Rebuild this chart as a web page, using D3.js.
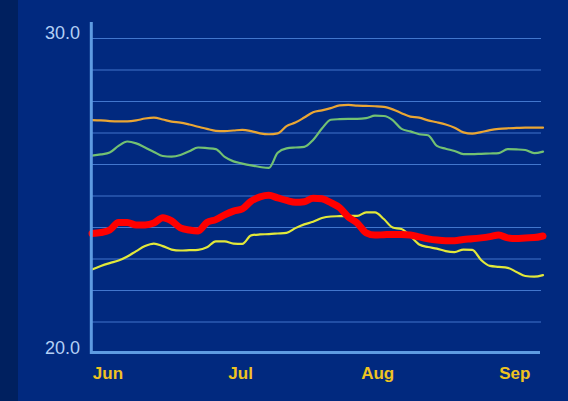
<!DOCTYPE html>
<html>
<head>
<meta charset="utf-8">
<script src="https://cdn.jsdelivr.net/npm/d3@7"></script>
<style>
  html, body { margin: 0; padding: 0; background: #01297f; }
  svg { display: block; }
</style>
</head>
<body>
<svg id="chart" width="568" height="401"></svg>
<script>
// ---- data (values every 2 days, starting 28 May midday) ----
const startDate = new Date(2021, 4, 28, 12);
const stepDays = 2;
const monthTicks = ["Jun", "Jul", "Aug", "Sep"];
const yTickValues = [20, 30];

const orangeSeries = [27.41,27.40,27.38,27.37,27.37,27.40,27.46,27.49,27.43,27.36,27.33,27.27,27.20,27.13,27.07,27.06,27.08,27.10,27.06,26.99,26.96,26.99,27.22,27.33,27.49,27.66,27.72,27.79,27.88,27.89,27.87,27.86,27.85,27.83,27.75,27.63,27.52,27.49,27.40,27.34,27.27,27.17,27.02,26.98,27.03,27.09,27.13,27.15,27.16,27.17,27.17,27.17];
const greenSeries = [26.28,26.32,26.38,26.59,26.73,26.67,26.54,26.40,26.27,26.25,26.30,26.42,26.54,26.52,26.49,26.24,26.10,26.03,25.97,25.92,25.89,26.37,26.51,26.54,26.56,26.78,27.14,27.42,27.44,27.45,27.45,27.47,27.55,27.54,27.41,27.13,27.05,26.96,26.93,26.59,26.50,26.43,26.33,26.33,26.34,26.35,26.36,26.49,26.48,26.46,26.36,26.41];
const yellowSeries = [22.67,22.78,22.87,22.95,23.08,23.25,23.41,23.49,23.41,23.30,23.27,23.28,23.29,23.37,23.56,23.56,23.49,23.48,23.75,23.78,23.79,23.81,23.83,23.98,24.10,24.18,24.30,24.35,24.36,24.37,24.37,24.48,24.48,24.27,24.00,23.95,23.73,23.46,23.38,23.33,23.25,23.22,23.30,23.29,22.97,22.78,22.75,22.72,22.59,22.46,22.44,22.49];
const redSeries = [23.81,23.84,23.92,24.16,24.16,24.08,24.08,24.14,24.31,24.21,23.99,23.92,23.89,24.16,24.25,24.40,24.52,24.59,24.84,24.97,25.02,24.94,24.86,24.80,24.82,24.93,24.91,24.79,24.63,24.33,24.14,23.83,23.76,23.77,23.78,23.78,23.76,23.70,23.64,23.60,23.58,23.58,23.62,23.64,23.67,23.71,23.76,23.67,23.65,23.67,23.68,23.73];

const dates = orangeSeries.map((_, i) => d3.timeHour.offset(startDate, i * stepDays * 24));

const series = [
  { name: "orange", values: orangeSeries, color: "#eaa634", width: 2.2 },
  { name: "green", values: greenSeries, color: "#73c172", width: 2.2 },
  { name: "yellow", values: yellowSeries, color: "#e2e83a", width: 2.2 },
  { name: "red", values: redSeries, color: "#ff0000", width: 7 }
];

// ---- layout ----
const svg = d3.select("#chart");
svg.append("rect").attr("x", 0).attr("y", 0).attr("width", 568).attr("height", 401).attr("fill", "#01297f");
svg.append("rect").attr("x", 0).attr("y", 0).attr("width", 18).attr("height", 401).attr("fill", "#00205f");

const x = d3.scaleTime().domain(d3.extent(dates)).range([92, 543]);
const y = d3.scaleLinear().domain([20, 30.5]).range([353.5, 22.75]);

// gridlines
const gridVals = d3.range(21, 31, 1);
svg.append("g").selectAll("line").data(gridVals).join("line")
  .attr("x1", 92).attr("x2", 541)
  .attr("y1", d => y(d)).attr("y2", d => y(d))
  .attr("stroke", "#4a7fd6").attr("stroke-width", 1.2).attr("opacity", 0.9);

// lines
const line = d3.line()
  .x((d, i) => x(dates[i]))
  .y(d => y(d))
  .curve(d3.curveMonotoneX);

svg.append("g").selectAll("path").data(series).join("path")
  .attr("d", s => line(s.values))
  .attr("fill", "none")
  .attr("stroke", s => s.color)
  .attr("stroke-width", s => s.width)
  .attr("stroke-linejoin", "round")
  .attr("stroke-linecap", "round");

// axis lines
svg.append("line").attr("x1", 91.3).attr("x2", 91.3).attr("y1", 22).attr("y2", 354)
  .attr("stroke", "#5e9be2").attr("stroke-width", 3);
svg.append("line").attr("x1", 90).attr("x2", 540).attr("y1", 352.5).attr("y2", 352.5)
  .attr("stroke", "#5e9be2").attr("stroke-width", 3);

// y axis labels
const yAxis = d3.axisLeft(y).tickValues(yTickValues).tickFormat(d3.format(".1f")).tickSize(0).tickPadding(0);
const gy = svg.append("g").attr("transform", "translate(80,0)").call(yAxis);
gy.select(".domain").remove();
gy.selectAll("text")
  .attr("dy", "0")
  .attr("fill", "#b3cff5")
  .style("font-family", "'Liberation Sans', Arial, sans-serif")
  .style("font-size", "18px");

// x axis labels
const monthDates = monthTicks.map(m => d3.timeParse("%b %Y")(m + " 2021"));
const xAxis = d3.axisBottom(x).tickValues(monthDates).tickFormat(d3.timeFormat("%b")).tickSize(0).tickPadding(0);
const gx = svg.append("g").attr("transform", "translate(0,379)").call(xAxis);
gx.select(".domain").remove();
gx.selectAll("text")
  .attr("y", 0).attr("dy", "0")
  .attr("fill", "#efc321")
  .style("font-family", "'Liberation Sans', Arial, sans-serif")
  .style("font-weight", "bold")
  .style("font-size", "17px");
</script>
</body>
</html>
